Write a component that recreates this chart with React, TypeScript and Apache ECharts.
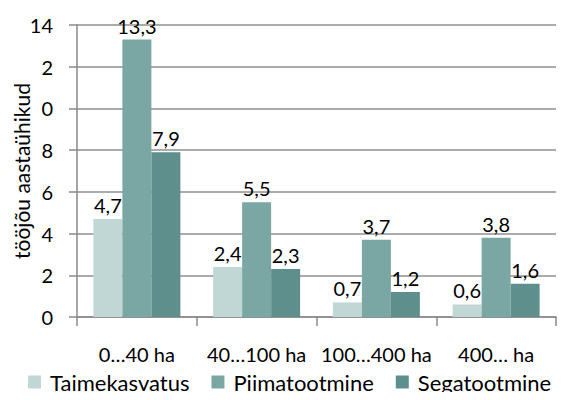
import React, { useEffect, useRef } from "react";
import * as echarts from "echarts";

const categories = ["0…40 ha", "40…100 ha", "100…400 ha", "400… ha"];
const seriesNames = ["Taimekasvatus", "Piimatootmine", "Segatootmine"];
const taimekasvatus = [4.7, 2.4, 0.7, 0.6];
const piimatootmine = [13.3, 5.5, 3.7, 3.8];
const segatootmine = [7.9, 2.3, 1.2, 1.6];
const yTickLabels = ["0", "2", "4", "6", "8", "0", "2", "14"];
const colors = ["#c0d7d5", "#7aa7a4", "#5f8f8c"];
const yTitle = "tööjõu aastaühikud";

const FONT = "Lato, 'Open Sans', sans-serif";

export default function App() {
  const ref = useRef<HTMLDivElement>(null);
  useEffect(() => {
    if (!ref.current) return;
    const chart = echarts.init(ref.current, undefined, { renderer: "svg" });
    const mk = (name: string, data: number[], color: string) => ({
      name,
      type: "bar",
      data,
      barWidth: 29,
      barGap: "0%",
      itemStyle: { color },
      label: {
        show: true,
        position: "top",
        distance: 4,
        color: "#000",
        fontFamily: FONT,
        fontSize: 20,
        formatter: (p: any) => String(p.value).replace(".", ","),
      },
    });
    chart.setOption({
      animation: false,
      color: colors,
      textStyle: { fontFamily: FONT },
      grid: {
        left: 77,
        right: 16,
        top: 25,
        bottom: 83,
        containLabel: false,
        outerBoundsMode: "none",
      },
      xAxis: {
        type: "category",
        data: categories,
        axisLine: { lineStyle: { color: "#8a8a8a", width: 1.5 } },
        axisTick: { show: true, length: 9, lineStyle: { color: "#8a8a8a", width: 1.5 } },
        axisLabel: { color: "#000", fontSize: 20, fontFamily: FONT, margin: 27, interval: 0 },
      },
      yAxis: {
        type: "value",
        min: 0,
        max: 14,
        interval: 2,
        name: yTitle,
        nameLocation: "middle",
        nameGap: 45,
        nameMoveOverlap: false,
        nameTextStyle: { color: "#000", fontSize: 21, fontFamily: FONT },
        axisLine: { show: true, lineStyle: { color: "#8a8a8a", width: 1.5 } },
        axisTick: { show: true, length: 8, lineStyle: { color: "#8a8a8a", width: 1.5 } },
        axisLabel: {
          color: "#000",
          fontSize: 20,
          fontFamily: FONT,
          margin: 24,
          formatter: (v: number) => yTickLabels[Math.round(v / 2)] ?? "",
        },
        splitLine: { show: true, lineStyle: { color: "#8f8f8f", width: 1.5 } },
      },
      legend: {
        bottom: 2,
        left: 23,
        itemWidth: 13,
        itemHeight: 13,
        itemGap: 22,
        icon: "rect",
        textStyle: { color: "#000", fontSize: 22, fontFamily: FONT, padding: [0, 0, 0, 4] },
        data: seriesNames,
      },
      series: [
        mk(seriesNames[0], taimekasvatus, colors[0]),
        mk(seriesNames[1], piimatootmine, colors[1]),
        mk(seriesNames[2], segatootmine, colors[2]),
      ],
    });
    return () => chart.dispose();
  }, []);
  return <div ref={ref} style={{ width: 572, height: 400, margin: -8 }} />;
}
